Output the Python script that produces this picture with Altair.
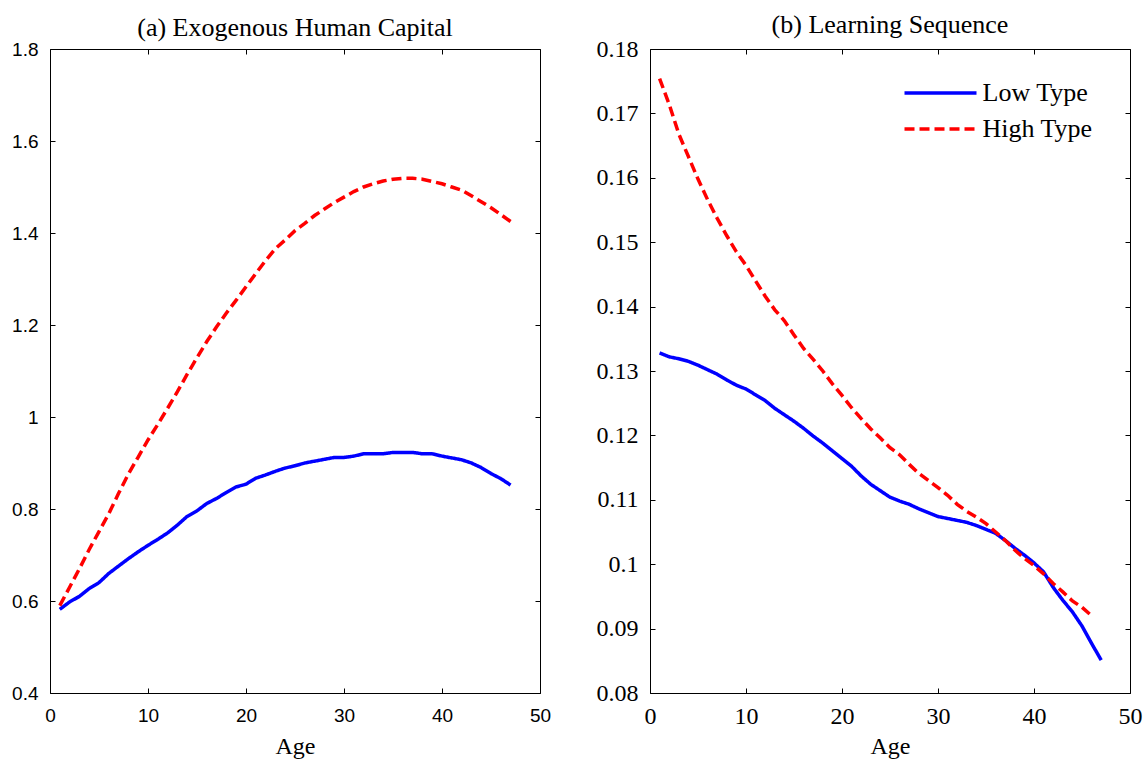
import altair as alt
import pandas as pd

SERIF = "Liberation Serif"
SANS = "Liberation Sans"

ages = list(range(1, 48))

# Panel (a) Exogenous Human Capital
hc_low = [0.582, 0.598, 0.610, 0.627, 0.640, 0.660, 0.676, 0.692, 0.707, 0.721,
          0.734, 0.748, 0.765, 0.784, 0.796, 0.812, 0.823, 0.836, 0.848, 0.854,
          0.867, 0.874, 0.882, 0.889, 0.894, 0.900, 0.904, 0.908, 0.912, 0.912,
          0.915, 0.920, 0.920, 0.920, 0.923, 0.923, 0.923, 0.920, 0.920, 0.915,
          0.911, 0.907, 0.900, 0.890, 0.877, 0.866, 0.852]
hc_high = [0.590, 0.630, 0.670, 0.712, 0.751, 0.790, 0.834, 0.876, 0.913, 0.950,
           0.984, 1.019, 1.055, 1.093, 1.129, 1.164, 1.196, 1.226, 1.254, 1.283,
           1.312, 1.340, 1.366, 1.385, 1.405, 1.421, 1.438, 1.452, 1.466, 1.478,
           1.490, 1.500, 1.507, 1.513, 1.517, 1.519, 1.519, 1.517, 1.512, 1.507,
           1.500, 1.493, 1.481, 1.468, 1.455, 1.440, 1.425]

# Panel (b) Learning Sequence
ls_low = [0.1328, 0.1322, 0.1319, 0.1315, 0.1309, 0.1302, 0.1295, 0.1286, 0.1278, 0.1272,
          0.1263, 0.1254, 0.1242, 0.1232, 0.1222, 0.1211, 0.1199, 0.1188, 0.1176, 0.1164,
          0.1152, 0.1137, 0.1124, 0.1114, 0.1104, 0.1098, 0.1093, 0.1086, 0.1080, 0.1074,
          0.1071, 0.1068, 0.1065, 0.1060, 0.1054, 0.1048, 0.1037, 0.1025, 0.1014, 0.1002,
          0.0988, 0.0964, 0.0944, 0.0926, 0.0904, 0.0877, 0.0851]
ls_high_ages = list(range(1, 47))
ls_high = [0.1754, 0.1714, 0.1668, 0.1633, 0.1598, 0.1566, 0.1537, 0.1510, 0.1485, 0.1464,
           0.1440, 0.1416, 0.1395, 0.1378, 0.1356, 0.1335, 0.1318, 0.1300, 0.1280, 0.1262,
           0.1243, 0.1226, 0.1210, 0.1196, 0.1181, 0.1170, 0.1155, 0.1141, 0.1130, 0.1119,
           0.1107, 0.1093, 0.1082, 0.1073, 0.1063, 0.1050, 0.1037, 0.1022, 0.1009, 0.0998,
           0.0985, 0.0970, 0.0957, 0.0943, 0.0933, 0.0920]

types = ["Low Type", "High Type"]
colors = ["#0000ff", "#ff0000"]
dashes = [[1, 0], [10, 5]]

x_ticks = [0, 10, 20, 30, 40, 50]
a_ticks = [0.4, 0.6, 0.8, 1.0, 1.2, 1.4, 1.6, 1.8]
b_ticks = [0.08, 0.09, 0.1, 0.11, 0.12, 0.13, 0.14, 0.15, 0.16, 0.17, 0.18]

df_a = pd.DataFrame({
    "age": ages + ages,
    "value": hc_low + hc_high,
    "type": [types[0]] * len(ages) + [types[1]] * len(ages),
})
df_b = pd.DataFrame({
    "age": ages + ls_high_ages,
    "value": ls_low + ls_high,
    "type": [types[0]] * len(ages) + [types[1]] * len(ls_high_ages),
})

TICK = 5


def panel(df, title, ydomain, yticks, tickfont, tickfs, width, legend, lab_pad, xtitle_pad):
    xs = alt.Scale(domain=[0, 50], nice=False, zero=False)
    ys = alt.Scale(domain=ydomain, nice=False, zero=False)
    common = dict(domain=False, grid=False, tickSize=TICK, offset=-TICK,
                  tickColor="black", tickWidth=1)
    ax_bottom = alt.Axis(orient="bottom", values=x_ticks, format="d", title="Age",
                         titleFont=SERIF, titleFontSize=24, titleFontWeight="normal",
                         titleColor="black", titlePadding=xtitle_pad,
                         labelFont=tickfont, labelFontSize=tickfs, labelColor="black",
                         labelPadding=lab_pad, labelFlush=False, labelOverlap=False, **common)
    ax_left = alt.Axis(orient="left", values=yticks, format="~g", title=None,
                       labelFont=tickfont, labelFontSize=tickfs, labelColor="black",
                       labelPadding=12, labelFlush=False, labelOverlap=False, **common)
    ax_top = alt.Axis(orient="top", values=x_ticks, labels=False, title=None,
                      minExtent=0, **common)
    ax_right = alt.Axis(orient="right", values=yticks, labels=False, title=None,
                        minExtent=0, **common)

    frame = alt.Chart(df).mark_point(opacity=0).encode(
        x=alt.X("age:Q", scale=xs, axis=ax_top),
        y=alt.Y("value:Q", scale=ys, axis=ax_right),
    )
    lines = alt.Chart(df).mark_line(strokeWidth=3.5).encode(
        x=alt.X("age:Q", scale=xs, axis=ax_bottom),
        y=alt.Y("value:Q", scale=ys, axis=ax_left),
        color=alt.Color("type:N", scale=alt.Scale(domain=types, range=colors), legend=legend),
        strokeDash=alt.StrokeDash("type:N", scale=alt.Scale(domain=types, range=dashes),
                                  legend=legend),
    )
    return alt.layer(frame, lines).resolve_axis(x="independent", y="independent").properties(
        width=width, height=644,
        title=alt.TitleParams(title, font=SERIF, fontSize=26, fontWeight="normal",
                              color="black", anchor="middle", frame="group",
                              baseline="alphabetic", offset=-22),
    )


# legend symbol: a horizontal stroke drawn as a custom path (3 units each side)
leg = alt.Legend(orient="none", legendX=254, legendY=30, title=None,
                 labelFont=SERIF, labelFontSize=26, labelColor="black",
                 symbolType="M-3,0H3", symbolSize=576, symbolStrokeWidth=3.5,
                 symbolOffset=22.5, labelOffset=28, rowPadding=9, padding=0)

left = panel(df_a, "(a) Exogenous Human Capital", [0.4, 1.8], a_ticks, SANS, 19, 490, None, 13.5, 8.5)
right = panel(df_b, "(b) Learning Sequence", [0.08, 0.18], b_ticks, SERIF, 24, 480, leg, 11, 6.5)

chart = alt.hconcat(left, right, spacing=43).resolve_legend(
    color="independent", strokeDash="independent"
).configure_view(stroke="black", strokeWidth=1).properties(
    padding={"left": 11, "top": 11, "right": 0, "bottom": 0},
    background="white",
)

chart.save("out.html", embed_options={"renderer": "svg", "actions": False})
